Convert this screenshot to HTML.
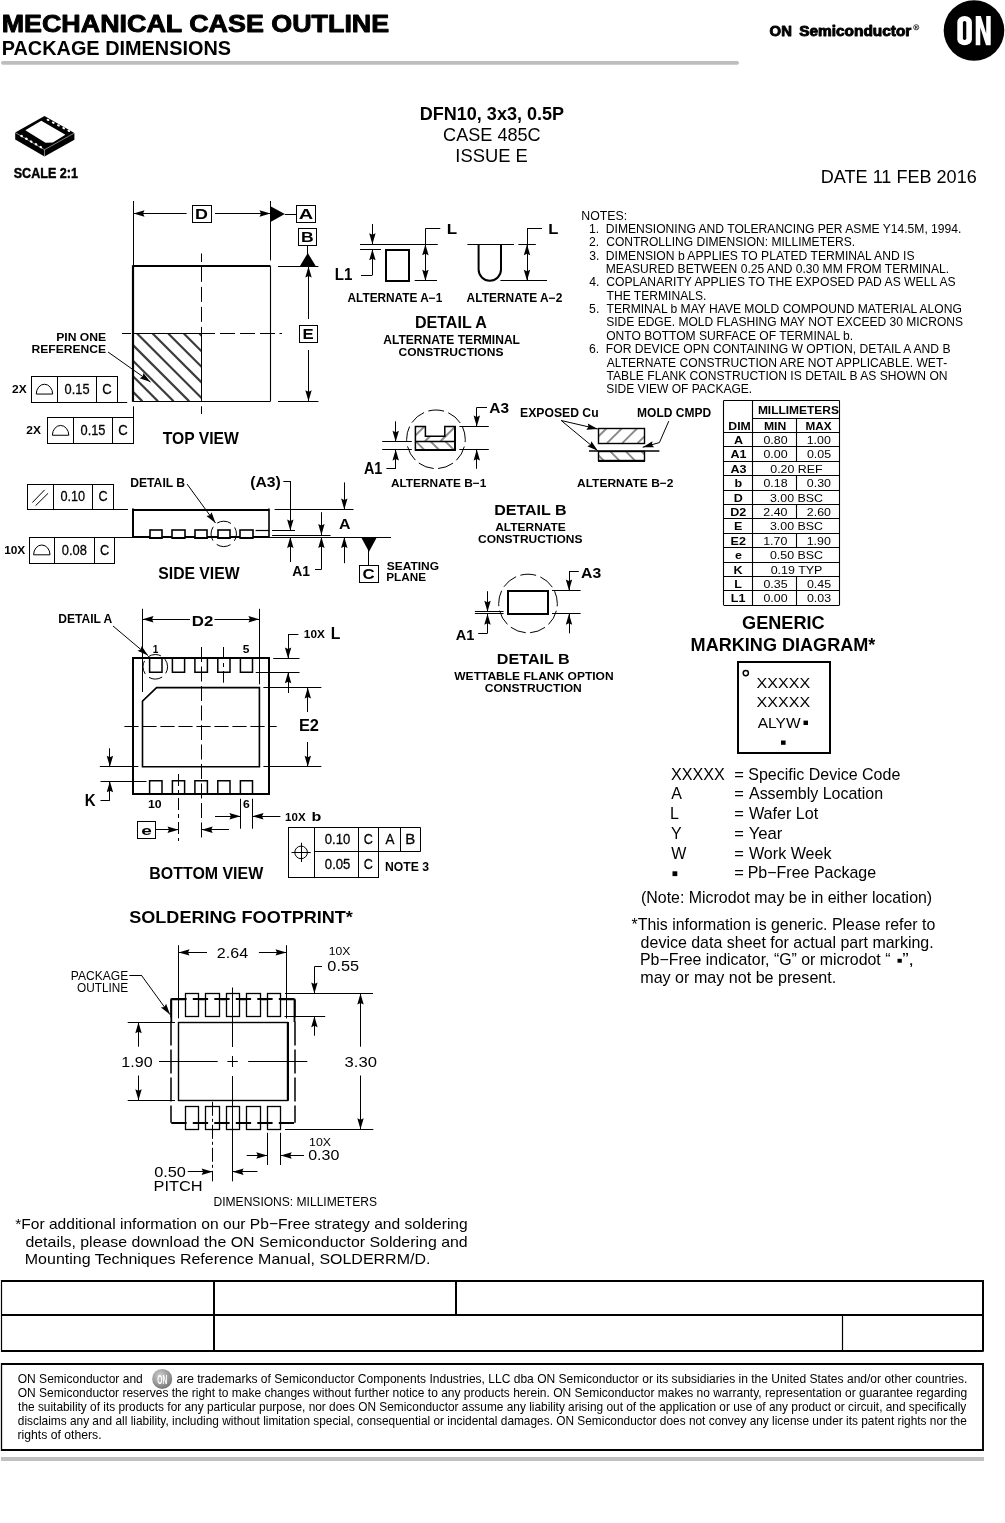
<!DOCTYPE html>
<html><head><meta charset="utf-8"><style>
html,body{margin:0;padding:0;background:#fff;}
body{width:1005px;height:1523px;overflow:hidden;}
svg{display:block;font-family:"Liberation Sans",sans-serif;will-change:transform;}
</style></head><body>
<svg width="1005" height="1523" viewBox="0 0 1005 1523">
<text x="1.66" y="32" font-size="23.84" font-weight="bold" fill="#000" textLength="387.54" lengthAdjust="spacingAndGlyphs" stroke="#000" stroke-width="0.9" stroke-linejoin="round">MECHANICAL CASE OUTLINE</text>
<text x="1.68" y="54.6" font-size="20.06" font-weight="bold" fill="#000" textLength="229.39" lengthAdjust="spacingAndGlyphs">PACKAGE DIMENSIONS</text>
<line x1="2.8" y1="62.9" x2="737.2" y2="62.9" stroke="#bdbdbd" stroke-width="3.6" stroke-linecap="round"/>
<text x="769.64" y="35.75" font-size="14.39" font-weight="bold" fill="#000" textLength="22.2" lengthAdjust="spacingAndGlyphs" stroke="#000" stroke-width="0.9" stroke-linejoin="round">ON</text>
<text x="799.21" y="35.75" font-size="14.39" font-weight="bold" fill="#000" textLength="112.08" lengthAdjust="spacingAndGlyphs" stroke="#000" stroke-width="0.9" stroke-linejoin="round">Semiconductor</text>
<circle cx="916.2" cy="27.3" r="2.6" stroke="#000" stroke-width="0.7" fill="none"/>
<text x="916.2" y="28.9" font-size="4.2" font-weight="bold" text-anchor="middle">R</text>
<circle cx="974" cy="30.5" r="30.3" stroke="none" stroke-width="0" fill="#000"/>
<rect x="957.3" y="16" width="14.6" height="29.3" rx="7.3" ry="6" fill="#fff"/>
<rect x="962.9" y="20.9" width="3.4" height="19.1" rx="1.7" ry="1.7" fill="#000"/>
<path d="M975.7,16 L980.8,16 L986.2,33.5 L986.2,16 L990.7,16 L990.7,45.3 L986,45.3 L980.3,27.5 L980.3,45.3 L975.7,45.3 Z" fill="#fff"/>
<text x="419.79" y="120" font-size="18.17" font-weight="bold" fill="#000" textLength="144.22" lengthAdjust="spacingAndGlyphs">DFN10, 3x3, 0.5P</text>
<text x="443.08" y="141" font-size="18.02" font-weight="normal" fill="#000" textLength="97.61" lengthAdjust="spacingAndGlyphs">CASE 485C</text>
<text x="455.3" y="161.7" font-size="18.02" font-weight="normal" fill="#000" textLength="72.48" lengthAdjust="spacingAndGlyphs">ISSUE E</text>
<text x="820.84" y="183.2" font-size="18.31" font-weight="normal" fill="#000" textLength="155.94" lengthAdjust="spacingAndGlyphs">DATE 11 FEB 2016</text>
<polygon points="44.5,115.9 74.4,133.0 74.4,139.8 44.5,156.5 15.2,139.4 15.2,132.6" fill="#000"/>
<polyline points="15.2,132.6 44.5,149.7 74.4,133.0" stroke="#fff" stroke-width="0.5" fill="none"/>
<line x1="44.5" y1="149.7" x2="44.5" y2="156.5" stroke="#fff" stroke-width="0.5"/>
<polygon points="41.3,120.8 25.3,130.2 45.5,142.7 52.8,142.6 65.4,134.7" fill="#fff"/>
<ellipse cx="48.0" cy="119.9" rx="1.5" ry="1.0" fill="#fff" transform="rotate(30 48.0 119.9)"/>
<ellipse cx="21.6" cy="136.0" rx="1.5" ry="1.1" fill="#fff" transform="rotate(30 21.6 136.0)"/>
<ellipse cx="53.2" cy="122.7" rx="1.5" ry="1.0" fill="#fff" transform="rotate(30 53.2 122.7)"/>
<ellipse cx="26.4" cy="138.8" rx="1.5" ry="1.1" fill="#fff" transform="rotate(30 26.4 138.8)"/>
<ellipse cx="58.4" cy="125.4" rx="1.5" ry="1.0" fill="#fff" transform="rotate(30 58.4 125.4)"/>
<ellipse cx="31.2" cy="141.6" rx="1.5" ry="1.1" fill="#fff" transform="rotate(30 31.2 141.6)"/>
<ellipse cx="63.6" cy="128.2" rx="1.5" ry="1.0" fill="#fff" transform="rotate(30 63.6 128.2)"/>
<ellipse cx="36.0" cy="144.3" rx="1.5" ry="1.1" fill="#fff" transform="rotate(30 36.0 144.3)"/>
<ellipse cx="68.8" cy="130.9" rx="1.5" ry="1.0" fill="#fff" transform="rotate(30 68.8 130.9)"/>
<ellipse cx="40.8" cy="147.1" rx="1.5" ry="1.1" fill="#fff" transform="rotate(30 40.8 147.1)"/>
<text x="13.66" y="177.68" font-size="15.48" font-weight="bold" fill="#000" textLength="64.36" lengthAdjust="spacingAndGlyphs" stroke="#000" stroke-width="0.45" stroke-linejoin="round">SCALE 2:1</text>
<clipPath id="hc"><rect x="133.40" y="333.50" width="68.10" height="67.80"/></clipPath>
<g clip-path="url(#hc)" stroke="#3c3c3c" stroke-width="2.20"><line x1="74.60" y1="333.50" x2="142.40" y2="401.30"/><line x1="90.20" y1="333.50" x2="158.00" y2="401.30"/><line x1="105.80" y1="333.50" x2="173.60" y2="401.30"/><line x1="121.40" y1="333.50" x2="189.20" y2="401.30"/><line x1="137.00" y1="333.50" x2="204.80" y2="401.30"/><line x1="152.60" y1="333.50" x2="220.40" y2="401.30"/><line x1="168.20" y1="333.50" x2="236.00" y2="401.30"/><line x1="183.80" y1="333.50" x2="251.60" y2="401.30"/><line x1="199.40" y1="333.50" x2="267.20" y2="401.30"/></g>
<line x1="133.4" y1="333.5" x2="201.5" y2="333.5" stroke="#000" stroke-width="1" stroke-linecap="butt"/>
<line x1="201.5" y1="333.5" x2="201.5" y2="401.3" stroke="#000" stroke-width="1" stroke-linecap="butt"/>
<line x1="133.4" y1="266" x2="270.5" y2="266" stroke="#000" stroke-width="2" stroke-linecap="butt"/>
<line x1="133" y1="265.2" x2="133" y2="401.8" stroke="#000" stroke-width="2.2" stroke-linecap="butt"/>
<line x1="270.5" y1="266.2" x2="270.5" y2="401.3" stroke="#000" stroke-width="1.1" stroke-linecap="butt"/>
<line x1="133.4" y1="401.5" x2="270.5" y2="401.5" stroke="#000" stroke-width="1.1" stroke-linecap="butt"/>
<line x1="201.5" y1="253.5" x2="201.5" y2="266" stroke="#000" stroke-width="1" stroke-linecap="butt" stroke-dasharray="8.5 4.9" stroke-dashoffset="0"/>
<line x1="201.5" y1="266.9" x2="201.5" y2="333.5" stroke="#000" stroke-width="1" stroke-linecap="butt" stroke-dasharray="15 5" stroke-dashoffset="0"/>
<line x1="201.5" y1="401.3" x2="201.5" y2="414" stroke="#000" stroke-width="1" stroke-linecap="butt" stroke-dasharray="0 5 15 5" stroke-dashoffset="0"/>
<line x1="122" y1="333.5" x2="133.4" y2="333.5" stroke="#000" stroke-width="1" stroke-linecap="butt" stroke-dasharray="9 3" stroke-dashoffset="0"/>
<line x1="201.5" y1="333.5" x2="282" y2="333.5" stroke="#000" stroke-width="1" stroke-linecap="butt" stroke-dasharray="13.5 5 15 5 15 5 15 4.5 8" stroke-dashoffset="0"/>
<line x1="133.5" y1="201" x2="133.5" y2="266" stroke="#000" stroke-width="1" stroke-linecap="butt"/>
<line x1="270.5" y1="201" x2="270.5" y2="260.4" stroke="#000" stroke-width="1" stroke-linecap="butt"/>
<line x1="133.5" y1="213.5" x2="186.6" y2="213.5" stroke="#000" stroke-width="1" stroke-linecap="butt"/>
<line x1="215" y1="213.5" x2="270.5" y2="213.5" stroke="#000" stroke-width="1" stroke-linecap="butt"/>
<polygon points="133.5,213.5 144.5,210.3 143,213.5 144.5,216.7" stroke="none" stroke-width="0" fill="#000" stroke-linejoin="miter"/>
<polygon points="270.5,213.5 259.5,216.7 261,213.5 259.5,210.3" stroke="none" stroke-width="0" fill="#000" stroke-linejoin="miter"/>
<rect x="192.5" y="205.5" width="19" height="17" stroke="#000" stroke-width="1" fill="none"/>
<text x="195" y="218.9" font-size="14.83" font-weight="bold" fill="#000" textLength="12.95" lengthAdjust="spacingAndGlyphs">D</text>
<polygon points="270.5,206.2 284.8,214 270.5,221.9" stroke="none" stroke-width="0" fill="#000" stroke-linejoin="miter"/>
<line x1="284.8" y1="214.5" x2="296.3" y2="214.5" stroke="#000" stroke-width="1" stroke-linecap="butt"/>
<rect x="296.5" y="205.5" width="19" height="17" stroke="#000" stroke-width="1" fill="none"/>
<text x="298.8" y="219.3" font-size="14.83" font-weight="bold" fill="#000" textLength="14.42" lengthAdjust="spacingAndGlyphs">A</text>
<rect x="298.5" y="228.5" width="18" height="17" stroke="#000" stroke-width="1" fill="none"/>
<text x="301.13" y="242.3" font-size="14.83" font-weight="bold" fill="#000" textLength="12.67" lengthAdjust="spacingAndGlyphs">B</text>
<line x1="307.5" y1="245.5" x2="307.5" y2="254" stroke="#000" stroke-width="1" stroke-linecap="butt"/>
<polygon points="307.8,253 315.9,266.2 299.8,266.2" stroke="none" stroke-width="0" fill="#000" stroke-linejoin="miter"/>
<line x1="278" y1="266.5" x2="318.4" y2="266.5" stroke="#000" stroke-width="1" stroke-linecap="butt"/>
<line x1="278" y1="401.5" x2="318.4" y2="401.5" stroke="#000" stroke-width="1" stroke-linecap="butt"/>
<line x1="308.5" y1="266.2" x2="308.5" y2="319" stroke="#000" stroke-width="1" stroke-linecap="butt"/>
<line x1="308.5" y1="350" x2="308.5" y2="401.5" stroke="#000" stroke-width="1" stroke-linecap="butt"/>
<polygon points="308.5,266.5 311.7,277.5 308.5,276 305.3,277.5" stroke="none" stroke-width="0" fill="#000" stroke-linejoin="miter"/>
<polygon points="308.5,401.3 305.3,390.3 308.5,391.8 311.7,390.3" stroke="none" stroke-width="0" fill="#000" stroke-linejoin="miter"/>
<rect x="299.5" y="325.5" width="18" height="17" stroke="#000" stroke-width="1" fill="none"/>
<text x="302.48" y="339.3" font-size="14.83" font-weight="bold" fill="#000" textLength="11.18" lengthAdjust="spacingAndGlyphs">E</text>
<text x="56.19" y="340.8" font-size="11.63" font-weight="bold" fill="#000" textLength="49.99" lengthAdjust="spacingAndGlyphs">PIN ONE</text>
<text x="31.49" y="352.7" font-size="11.63" font-weight="bold" fill="#000" textLength="74.68" lengthAdjust="spacingAndGlyphs">REFERENCE</text>
<line x1="108" y1="352" x2="150.5" y2="382" stroke="#000" stroke-width="1" stroke-linecap="butt"/>
<polygon points="150.5,382 139.67,378.27 142.74,376.52 143.36,373.04" stroke="none" stroke-width="0" fill="#000" stroke-linejoin="miter"/>
<rect x="31.5" y="376.5" width="86" height="26" stroke="#000" stroke-width="1" fill="none"/>
<line x1="57.5" y1="376.3" x2="57.5" y2="402.2" stroke="#000" stroke-width="1" stroke-linecap="butt"/>
<line x1="96.5" y1="376.3" x2="96.5" y2="402.2" stroke="#000" stroke-width="1" stroke-linecap="butt"/>
<path d="M36.25,394.05 A8.2,9.8 0 0 1 52.65,394.05 Z" stroke="#000" stroke-width="1" fill="none"/>
<text x="11.99" y="392.6" font-size="11.34" font-weight="bold" fill="#000" textLength="14.62" lengthAdjust="spacingAndGlyphs">2X</text>
<text x="64.6" y="393.95" font-size="15.26" font-weight="normal" fill="#000" textLength="24.94" lengthAdjust="spacingAndGlyphs" stroke="#000" stroke-width="0.3" stroke-linejoin="round">0.15</text>
<text x="102.33" y="393.95" font-size="15.26" font-weight="normal" fill="#000" textLength="9.46" lengthAdjust="spacingAndGlyphs" stroke="#000" stroke-width="0.3" stroke-linejoin="round">C</text>
<line x1="117.6" y1="402.5" x2="127.2" y2="402.5" stroke="#000" stroke-width="1" stroke-linecap="butt"/>
<rect x="47.5" y="417.5" width="86" height="26" stroke="#000" stroke-width="1" fill="none"/>
<line x1="73.5" y1="417.4" x2="73.5" y2="443.5" stroke="#000" stroke-width="1" stroke-linecap="butt"/>
<line x1="112.5" y1="417.4" x2="112.5" y2="443.5" stroke="#000" stroke-width="1" stroke-linecap="butt"/>
<path d="M52.40,435.25 A8.2,9.8 0 0 1 68.80,435.25 Z" stroke="#000" stroke-width="1" fill="none"/>
<text x="26.39" y="433.5" font-size="11.34" font-weight="bold" fill="#000" textLength="14.62" lengthAdjust="spacingAndGlyphs">2X</text>
<text x="80.55" y="435.25" font-size="15.26" font-weight="normal" fill="#000" textLength="24.94" lengthAdjust="spacingAndGlyphs" stroke="#000" stroke-width="0.3" stroke-linejoin="round">0.15</text>
<text x="118.23" y="435.25" font-size="15.26" font-weight="normal" fill="#000" textLength="9.46" lengthAdjust="spacingAndGlyphs" stroke="#000" stroke-width="0.3" stroke-linejoin="round">C</text>
<line x1="133.5" y1="406.3" x2="133.5" y2="417.4" stroke="#000" stroke-width="1" stroke-linecap="butt"/>
<text x="162.83" y="444" font-size="16.28" font-weight="bold" fill="#000" textLength="75.99" lengthAdjust="spacingAndGlyphs">TOP VIEW</text>
<text x="334.79" y="280" font-size="15.7" font-weight="bold" fill="#000" textLength="17.63" lengthAdjust="spacingAndGlyphs">L1</text>
<line x1="360" y1="244.5" x2="437.8" y2="244.5" stroke="#000" stroke-width="1" stroke-linecap="butt"/>
<line x1="360" y1="249.5" x2="381" y2="249.5" stroke="#000" stroke-width="1" stroke-linecap="butt"/>
<line x1="372.5" y1="224" x2="372.5" y2="244.3" stroke="#000" stroke-width="1" stroke-linecap="butt"/>
<polygon points="372.4,244.3 369.2,233.3 372.4,234.8 375.6,233.3" stroke="none" stroke-width="0" fill="#000" stroke-linejoin="miter"/>
<line x1="372.5" y1="249.3" x2="372.5" y2="275" stroke="#000" stroke-width="1" stroke-linecap="butt"/>
<polygon points="372.4,249.3 375.6,260.3 372.4,258.8 369.2,260.3" stroke="none" stroke-width="0" fill="#000" stroke-linejoin="miter"/>
<line x1="361" y1="275.5" x2="372.4" y2="275.5" stroke="#000" stroke-width="1" stroke-linecap="butt"/>
<rect x="386" y="250" width="23" height="31" stroke="#000" stroke-width="2" fill="none"/>
<line x1="425.5" y1="228.6" x2="425.5" y2="280.8" stroke="#000" stroke-width="1" stroke-linecap="butt"/>
<line x1="425.4" y1="228.5" x2="440.3" y2="228.5" stroke="#000" stroke-width="1" stroke-linecap="butt"/>
<polygon points="425.4,244.3 428.6,255.3 425.4,253.8 422.2,255.3" stroke="none" stroke-width="0" fill="#000" stroke-linejoin="miter"/>
<polygon points="425.4,280.8 422.2,269.8 425.4,271.3 428.6,269.8" stroke="none" stroke-width="0" fill="#000" stroke-linejoin="miter"/>
<line x1="414.7" y1="280.5" x2="437" y2="280.5" stroke="#000" stroke-width="1" stroke-linecap="butt"/>
<text x="446.67" y="234" font-size="14.53" font-weight="bold" fill="#000" textLength="10.36" lengthAdjust="spacingAndGlyphs">L</text>
<line x1="467.4" y1="244.5" x2="514" y2="244.5" stroke="#000" stroke-width="1" stroke-linecap="butt"/>
<path d="M478.6,244.3 L478.6,269.6 A11.2,11.2 0 0 0 501,269.6 L501,244.3" stroke="#000" stroke-width="2" fill="none"/>
<line x1="500.4" y1="280.5" x2="547" y2="280.5" stroke="#000" stroke-width="1" stroke-linecap="butt"/>
<line x1="518.4" y1="244.5" x2="535.8" y2="244.5" stroke="#000" stroke-width="1" stroke-linecap="butt"/>
<line x1="527.5" y1="228.6" x2="527.5" y2="280.8" stroke="#000" stroke-width="1" stroke-linecap="butt"/>
<line x1="527" y1="228.5" x2="542" y2="228.5" stroke="#000" stroke-width="1" stroke-linecap="butt"/>
<polygon points="527,244.3 530.2,255.3 527,253.8 523.8,255.3" stroke="none" stroke-width="0" fill="#000" stroke-linejoin="miter"/>
<polygon points="527,280.8 523.8,269.8 527,271.3 530.2,269.8" stroke="none" stroke-width="0" fill="#000" stroke-linejoin="miter"/>
<text x="548.39" y="234" font-size="14.53" font-weight="bold" fill="#000" textLength="10.12" lengthAdjust="spacingAndGlyphs">L</text>
<text x="347.51" y="302" font-size="11.92" font-weight="bold" fill="#000" textLength="94.81" lengthAdjust="spacingAndGlyphs">ALTERNATE A−1</text>
<text x="466.61" y="302" font-size="11.92" font-weight="bold" fill="#000" textLength="95.76" lengthAdjust="spacingAndGlyphs">ALTERNATE A−2</text>
<text x="414.96" y="328" font-size="15.99" font-weight="bold" fill="#000" textLength="71.96" lengthAdjust="spacingAndGlyphs">DETAIL A</text>
<text x="383.3" y="344.3" font-size="11.92" font-weight="bold" fill="#000" textLength="136.66" lengthAdjust="spacingAndGlyphs">ALTERNATE TERMINAL</text>
<text x="398.51" y="356" font-size="11.63" font-weight="bold" fill="#000" textLength="104.96" lengthAdjust="spacingAndGlyphs">CONSTRUCTIONS</text>
<text x="581.39" y="219.5" font-size="12.21" font-weight="normal" fill="#000" textLength="45.83" lengthAdjust="spacingAndGlyphs">NOTES:</text>
<text x="589.07" y="232.87" font-size="12.21" font-weight="normal" fill="#000" textLength="10.18" lengthAdjust="spacingAndGlyphs">1.</text>
<text x="605.81" y="232.87" font-size="12.21" font-weight="normal" fill="#000" textLength="355.58" lengthAdjust="spacingAndGlyphs">DIMENSIONING AND TOLERANCING PER ASME Y14.5M, 1994.</text>
<text x="588.99" y="246.24" font-size="12.21" font-weight="normal" fill="#000" textLength="10.18" lengthAdjust="spacingAndGlyphs">2.</text>
<text x="606.19" y="246.24" font-size="12.21" font-weight="normal" fill="#000" textLength="248.91" lengthAdjust="spacingAndGlyphs">CONTROLLING DIMENSION: MILLIMETERS.</text>
<text x="589.13" y="259.61" font-size="12.21" font-weight="normal" fill="#000" textLength="10.18" lengthAdjust="spacingAndGlyphs">3.</text>
<text x="605.82" y="259.61" font-size="12.21" font-weight="normal" fill="#000" textLength="308.74" lengthAdjust="spacingAndGlyphs">DIMENSION b APPLIES TO PLATED TERMINAL AND IS</text>
<text x="605.81" y="272.98" font-size="12.21" font-weight="normal" fill="#000" textLength="343.39" lengthAdjust="spacingAndGlyphs">MEASURED BETWEEN 0.25 AND 0.30 MM FROM TERMINAL.</text>
<text x="589.32" y="286.35" font-size="12.21" font-weight="normal" fill="#000" textLength="10.18" lengthAdjust="spacingAndGlyphs">4.</text>
<text x="606.19" y="286.35" font-size="12.21" font-weight="normal" fill="#000" textLength="349.46" lengthAdjust="spacingAndGlyphs">COPLANARITY APPLIES TO THE EXPOSED PAD AS WELL AS</text>
<text x="606.53" y="299.72" font-size="12.21" font-weight="normal" fill="#000" textLength="99.87" lengthAdjust="spacingAndGlyphs">THE TERMINALS.</text>
<text x="589.11" y="313.09" font-size="12.21" font-weight="normal" fill="#000" textLength="10.18" lengthAdjust="spacingAndGlyphs">5.</text>
<text x="606.53" y="313.09" font-size="12.21" font-weight="normal" fill="#000" textLength="355.36" lengthAdjust="spacingAndGlyphs">TERMINAL b MAY HAVE MOLD COMPOUND MATERIAL ALONG</text>
<text x="606.26" y="326.46" font-size="12.21" font-weight="normal" fill="#000" textLength="356.79" lengthAdjust="spacingAndGlyphs">SIDE EDGE. MOLD FLASHING MAY NOT EXCEED 30 MICRONS</text>
<text x="606.23" y="339.83" font-size="12.21" font-weight="normal" fill="#000" textLength="246.96" lengthAdjust="spacingAndGlyphs">ONTO BOTTOM SURFACE OF TERMINAL b.</text>
<text x="588.98" y="353.2" font-size="12.21" font-weight="normal" fill="#000" textLength="10.18" lengthAdjust="spacingAndGlyphs">6.</text>
<text x="605.82" y="353.2" font-size="12.21" font-weight="normal" fill="#000" textLength="344.71" lengthAdjust="spacingAndGlyphs">FOR DEVICE OPN CONTAINING W OPTION, DETAIL A AND B</text>
<text x="606.78" y="366.57" font-size="12.21" font-weight="normal" fill="#000" textLength="340.56" lengthAdjust="spacingAndGlyphs">ALTERNATE CONSTRUCTION ARE NOT APPLICABLE. WET‑</text>
<text x="606.53" y="379.94" font-size="12.21" font-weight="normal" fill="#000" textLength="341.05" lengthAdjust="spacingAndGlyphs">TABLE FLANK CONSTRUCTION IS DETAIL B AS SHOWN ON</text>
<text x="606.26" y="393.31" font-size="12.21" font-weight="normal" fill="#000" textLength="145.93" lengthAdjust="spacingAndGlyphs">SIDE VIEW OF PACKAGE.</text>
<line x1="723.8" y1="400.5" x2="839.4" y2="400.5" stroke="#000" stroke-width="1.1" stroke-linecap="butt"/>
<line x1="752.5" y1="418.5" x2="839.4" y2="418.5" stroke="#000" stroke-width="1.1" stroke-linecap="butt"/>
<line x1="723.8" y1="432.5" x2="839.4" y2="432.5" stroke="#000" stroke-width="1.1" stroke-linecap="butt"/>
<line x1="723.8" y1="446.5" x2="839.4" y2="446.5" stroke="#000" stroke-width="1.1" stroke-linecap="butt"/>
<line x1="723.8" y1="461.5" x2="839.4" y2="461.5" stroke="#000" stroke-width="1.1" stroke-linecap="butt"/>
<line x1="723.8" y1="475.5" x2="839.4" y2="475.5" stroke="#000" stroke-width="1.1" stroke-linecap="butt"/>
<line x1="723.8" y1="490.5" x2="839.4" y2="490.5" stroke="#000" stroke-width="1.1" stroke-linecap="butt"/>
<line x1="723.8" y1="504.5" x2="839.4" y2="504.5" stroke="#000" stroke-width="1.1" stroke-linecap="butt"/>
<line x1="723.8" y1="518.5" x2="839.4" y2="518.5" stroke="#000" stroke-width="1.1" stroke-linecap="butt"/>
<line x1="723.8" y1="533.5" x2="839.4" y2="533.5" stroke="#000" stroke-width="1.1" stroke-linecap="butt"/>
<line x1="723.8" y1="547.5" x2="839.4" y2="547.5" stroke="#000" stroke-width="1.1" stroke-linecap="butt"/>
<line x1="723.8" y1="562.5" x2="839.4" y2="562.5" stroke="#000" stroke-width="1.1" stroke-linecap="butt"/>
<line x1="723.8" y1="576.5" x2="839.4" y2="576.5" stroke="#000" stroke-width="1.1" stroke-linecap="butt"/>
<line x1="723.8" y1="590.5" x2="839.4" y2="590.5" stroke="#000" stroke-width="1.1" stroke-linecap="butt"/>
<line x1="723.8" y1="605.5" x2="839.4" y2="605.5" stroke="#000" stroke-width="1.1" stroke-linecap="butt"/>
<line x1="723.5" y1="400.4" x2="723.5" y2="605.3" stroke="#000" stroke-width="1.1" stroke-linecap="butt"/>
<line x1="752.5" y1="400.4" x2="752.5" y2="605.3" stroke="#000" stroke-width="1.1" stroke-linecap="butt"/>
<line x1="839.5" y1="400.4" x2="839.5" y2="605.3" stroke="#000" stroke-width="1.1" stroke-linecap="butt"/>
<line x1="796.5" y1="432.5" x2="796.5" y2="446.8" stroke="#000" stroke-width="1.1" stroke-linecap="butt"/>
<line x1="796.5" y1="446.8" x2="796.5" y2="461.2" stroke="#000" stroke-width="1.1" stroke-linecap="butt"/>
<line x1="796.5" y1="475.6" x2="796.5" y2="490.1" stroke="#000" stroke-width="1.1" stroke-linecap="butt"/>
<line x1="796.5" y1="504.5" x2="796.5" y2="518.9" stroke="#000" stroke-width="1.1" stroke-linecap="butt"/>
<line x1="796.5" y1="533.3" x2="796.5" y2="547.7" stroke="#000" stroke-width="1.1" stroke-linecap="butt"/>
<line x1="796.5" y1="576.5" x2="796.5" y2="590.8" stroke="#000" stroke-width="1.1" stroke-linecap="butt"/>
<line x1="796.5" y1="590.8" x2="796.5" y2="605.3" stroke="#000" stroke-width="1.1" stroke-linecap="butt"/>
<line x1="796.5" y1="418.5" x2="796.5" y2="432.5" stroke="#000" stroke-width="1.1" stroke-linecap="butt"/>
<text x="757.9" y="414.1" font-size="11.77" font-weight="bold" fill="#000" textLength="81.07" lengthAdjust="spacingAndGlyphs">MILLIMETERS</text>
<text x="728.38" y="429.7" font-size="11.77" font-weight="bold" fill="#000" textLength="22.44" lengthAdjust="spacingAndGlyphs">DIM</text>
<text x="763.98" y="429.7" font-size="11.77" font-weight="bold" fill="#000" textLength="22.34" lengthAdjust="spacingAndGlyphs">MIN</text>
<text x="805.41" y="429.7" font-size="11.77" font-weight="bold" fill="#000" textLength="26.09" lengthAdjust="spacingAndGlyphs">MAX</text>
<text x="733.92" y="443.8" font-size="11.63" font-weight="bold" fill="#000" textLength="9.07" lengthAdjust="spacingAndGlyphs">A</text>
<text x="763.43" y="443.8" font-size="11.48" font-weight="normal" fill="#000" textLength="24.14" lengthAdjust="spacingAndGlyphs">0.80</text>
<text x="806.65" y="443.8" font-size="11.48" font-weight="normal" fill="#000" textLength="24.14" lengthAdjust="spacingAndGlyphs">1.00</text>
<text x="730.44" y="458.2" font-size="11.63" font-weight="bold" fill="#000" textLength="16.05" lengthAdjust="spacingAndGlyphs">A1</text>
<text x="763.43" y="458.2" font-size="11.48" font-weight="normal" fill="#000" textLength="24.14" lengthAdjust="spacingAndGlyphs">0.00</text>
<text x="806.9" y="458.2" font-size="11.48" font-weight="normal" fill="#000" textLength="24.14" lengthAdjust="spacingAndGlyphs">0.05</text>
<text x="730.49" y="472.6" font-size="11.63" font-weight="bold" fill="#000" textLength="16.05" lengthAdjust="spacingAndGlyphs">A3</text>
<text x="770.26" y="472.6" font-size="11.48" font-weight="normal" fill="#000" textLength="52.38" lengthAdjust="spacingAndGlyphs">0.20 REF</text>
<text x="734.46" y="487.1" font-size="11.63" font-weight="bold" fill="#000" textLength="7.67" lengthAdjust="spacingAndGlyphs">b</text>
<text x="763.46" y="487.1" font-size="11.48" font-weight="normal" fill="#000" textLength="24.14" lengthAdjust="spacingAndGlyphs">0.18</text>
<text x="806.88" y="487.1" font-size="11.48" font-weight="normal" fill="#000" textLength="24.14" lengthAdjust="spacingAndGlyphs">0.30</text>
<text x="733.76" y="501.5" font-size="11.63" font-weight="bold" fill="#000" textLength="9.07" lengthAdjust="spacingAndGlyphs">D</text>
<text x="769.91" y="501.5" font-size="11.48" font-weight="normal" fill="#000" textLength="53.08" lengthAdjust="spacingAndGlyphs">3.00 BSC</text>
<text x="730.25" y="515.9" font-size="11.63" font-weight="bold" fill="#000" textLength="16.05" lengthAdjust="spacingAndGlyphs">D2</text>
<text x="763.36" y="515.9" font-size="11.48" font-weight="normal" fill="#000" textLength="24.14" lengthAdjust="spacingAndGlyphs">2.40</text>
<text x="806.81" y="515.9" font-size="11.48" font-weight="normal" fill="#000" textLength="24.14" lengthAdjust="spacingAndGlyphs">2.60</text>
<text x="734.09" y="530.3" font-size="11.63" font-weight="bold" fill="#000" textLength="8.38" lengthAdjust="spacingAndGlyphs">E</text>
<text x="769.91" y="530.3" font-size="11.48" font-weight="normal" fill="#000" textLength="53.08" lengthAdjust="spacingAndGlyphs">3.00 BSC</text>
<text x="730.6" y="544.7" font-size="11.63" font-weight="bold" fill="#000" textLength="15.36" lengthAdjust="spacingAndGlyphs">E2</text>
<text x="763.2" y="544.7" font-size="11.48" font-weight="normal" fill="#000" textLength="24.14" lengthAdjust="spacingAndGlyphs">1.70</text>
<text x="806.65" y="544.7" font-size="11.48" font-weight="normal" fill="#000" textLength="24.14" lengthAdjust="spacingAndGlyphs">1.90</text>
<text x="734.93" y="559.1" font-size="11.63" font-weight="bold" fill="#000" textLength="6.98" lengthAdjust="spacingAndGlyphs">e</text>
<text x="769.9" y="559.1" font-size="11.48" font-weight="normal" fill="#000" textLength="53.08" lengthAdjust="spacingAndGlyphs">0.50 BSC</text>
<text x="733.55" y="573.5" font-size="11.63" font-weight="bold" fill="#000" textLength="9.07" lengthAdjust="spacingAndGlyphs">K</text>
<text x="770.68" y="573.5" font-size="11.48" font-weight="normal" fill="#000" textLength="51.7" lengthAdjust="spacingAndGlyphs">0.19 TYP</text>
<text x="734.39" y="587.8" font-size="11.63" font-weight="bold" fill="#000" textLength="7.67" lengthAdjust="spacingAndGlyphs">L</text>
<text x="763.45" y="587.8" font-size="11.48" font-weight="normal" fill="#000" textLength="24.14" lengthAdjust="spacingAndGlyphs">0.35</text>
<text x="806.9" y="587.8" font-size="11.48" font-weight="normal" fill="#000" textLength="24.14" lengthAdjust="spacingAndGlyphs">0.45</text>
<text x="730.88" y="602.3" font-size="11.63" font-weight="bold" fill="#000" textLength="14.66" lengthAdjust="spacingAndGlyphs">L1</text>
<text x="763.43" y="602.3" font-size="11.48" font-weight="normal" fill="#000" textLength="24.14" lengthAdjust="spacingAndGlyphs">0.00</text>
<text x="806.91" y="602.3" font-size="11.48" font-weight="normal" fill="#000" textLength="24.14" lengthAdjust="spacingAndGlyphs">0.03</text>
<circle cx="435.95" cy="439.3" r="29.3" stroke="#000" stroke-width="1" fill="none" stroke-dasharray="15.96 4.50" stroke-dashoffset="-7.36"/>
<clipPath id="hb1"><polygon points="415.4,426.5 425.4,426.5 425.4,436.3 444.8,436.3 444.8,426.5 455.3,426.5 455.3,441.3 415.4,441.3"/></clipPath>
<g clip-path="url(#hb1)" stroke="#8a8a8a" stroke-width="2.00"><line x1="424.30" y1="426.50" x2="409.50" y2="441.30"/><line x1="439.80" y1="426.50" x2="425.00" y2="441.30"/><line x1="455.30" y1="426.50" x2="440.50" y2="441.30"/><line x1="470.80" y1="426.50" x2="456.00" y2="441.30"/></g>
<clipPath id="hb1b"><rect x="415.40" y="441.30" width="39.90" height="8.70"/></clipPath>
<g clip-path="url(#hb1b)" stroke="#8a8a8a" stroke-width="1.90"><line x1="415.70" y1="441.30" x2="424.40" y2="450.00"/><line x1="430.50" y1="441.30" x2="439.20" y2="450.00"/><line x1="445.30" y1="441.30" x2="454.00" y2="450.00"/></g>
<polygon points="415.4,426.5 425.4,426.5 425.4,436.3 444.8,436.3 444.8,426.5 455,426.5 455,449.9 415.4,449.9" stroke="#000" stroke-width="1.5" fill="none" stroke-linejoin="miter"/>
<line x1="455" y1="426" x2="455" y2="450.6" stroke="#000" stroke-width="2" stroke-linecap="butt"/>
<line x1="415" y1="450" x2="455.8" y2="450" stroke="#000" stroke-width="2" stroke-linecap="butt"/>
<line x1="415.4" y1="441.5" x2="455.3" y2="441.5" stroke="#000" stroke-width="1.3" stroke-linecap="butt"/>
<line x1="382.2" y1="441.5" x2="411.8" y2="441.5" stroke="#000" stroke-width="1" stroke-linecap="butt"/>
<line x1="382.2" y1="449.5" x2="411.8" y2="449.5" stroke="#000" stroke-width="1" stroke-linecap="butt"/>
<line x1="459.3" y1="426.5" x2="488.8" y2="426.5" stroke="#000" stroke-width="1" stroke-linecap="butt"/>
<line x1="459.3" y1="449.5" x2="488.8" y2="449.5" stroke="#000" stroke-width="1" stroke-linecap="butt"/>
<line x1="395.5" y1="421.3" x2="395.5" y2="441.8" stroke="#000" stroke-width="1" stroke-linecap="butt"/>
<polygon points="395.7,441.8 392.5,430.8 395.7,432.3 398.9,430.8" stroke="none" stroke-width="0" fill="#000" stroke-linejoin="miter"/>
<line x1="395.5" y1="449.6" x2="395.5" y2="468.8" stroke="#000" stroke-width="1" stroke-linecap="butt"/>
<polygon points="395.7,449.6 398.9,460.6 395.7,459.1 392.5,460.6" stroke="none" stroke-width="0" fill="#000" stroke-linejoin="miter"/>
<line x1="386.4" y1="468.5" x2="395.7" y2="468.5" stroke="#000" stroke-width="1" stroke-linecap="butt"/>
<text x="363.94" y="474.2" font-size="15.7" font-weight="bold" fill="#000" textLength="18.36" lengthAdjust="spacingAndGlyphs">A1</text>
<line x1="476.5" y1="407.4" x2="476.5" y2="426.6" stroke="#000" stroke-width="1" stroke-linecap="butt"/>
<polygon points="476.8,426.6 473.6,415.6 476.8,417.1 480,415.6" stroke="none" stroke-width="0" fill="#000" stroke-linejoin="miter"/>
<line x1="476.8" y1="407.5" x2="487" y2="407.5" stroke="#000" stroke-width="1" stroke-linecap="butt"/>
<line x1="476.5" y1="449.6" x2="476.5" y2="468.8" stroke="#000" stroke-width="1" stroke-linecap="butt"/>
<polygon points="476.8,449.6 480,460.6 476.8,459.1 473.6,460.6" stroke="none" stroke-width="0" fill="#000" stroke-linejoin="miter"/>
<text x="489.32" y="412.7" font-size="15.26" font-weight="bold" fill="#000" textLength="19.74" lengthAdjust="spacingAndGlyphs">A3</text>
<text x="390.91" y="486.7" font-size="11.48" font-weight="bold" fill="#000" textLength="95.51" lengthAdjust="spacingAndGlyphs">ALTERNATE B−1</text>
<text x="520.09" y="416.9" font-size="12.06" font-weight="bold" fill="#000" textLength="78.52" lengthAdjust="spacingAndGlyphs">EXPOSED Cu</text>
<text x="637.1" y="416.9" font-size="12.06" font-weight="bold" fill="#000" textLength="74.01" lengthAdjust="spacingAndGlyphs">MOLD CMPD</text>
<clipPath id="hb2"><rect x="598.50" y="428.50" width="45.70" height="14.70"/></clipPath>
<g clip-path="url(#hb2)" stroke="#8a8a8a" stroke-width="1.90"><line x1="606.40" y1="428.50" x2="591.70" y2="443.20"/><line x1="621.70" y1="428.50" x2="607.00" y2="443.20"/><line x1="637.00" y1="428.50" x2="622.30" y2="443.20"/><line x1="652.30" y1="428.50" x2="637.60" y2="443.20"/></g>
<rect x="598.5" y="428.5" width="46" height="15" stroke="#000" stroke-width="1.4" fill="none"/>
<clipPath id="hb3"><rect x="598.50" y="451.70" width="46.00" height="9.20"/></clipPath>
<g clip-path="url(#hb3)" stroke="#8a8a8a" stroke-width="1.90"><line x1="594.90" y1="451.70" x2="604.10" y2="460.90"/><line x1="610.50" y1="451.70" x2="619.70" y2="460.90"/><line x1="626.10" y1="451.70" x2="635.30" y2="460.90"/><line x1="641.70" y1="451.70" x2="650.90" y2="460.90"/></g>
<rect x="598.5" y="451.5" width="46" height="9" stroke="#000" stroke-width="1.4" fill="none"/>
<line x1="598" y1="461" x2="645" y2="461" stroke="#000" stroke-width="2" stroke-linecap="butt"/>
<line x1="589" y1="451" x2="659.4" y2="451" stroke="#000" stroke-width="1.6" stroke-linecap="butt"/>
<line x1="561.2" y1="420.5" x2="597.8" y2="429" stroke="#000" stroke-width="1" stroke-linecap="butt"/>
<polygon points="597.8,429 586.36,429.63 588.55,426.85 587.81,423.39" stroke="none" stroke-width="0" fill="#000" stroke-linejoin="miter"/>
<line x1="561.2" y1="420.5" x2="597.8" y2="450.8" stroke="#000" stroke-width="1" stroke-linecap="butt"/>
<polygon points="597.8,450.8 587.29,446.25 590.48,444.74 591.37,441.32" stroke="none" stroke-width="0" fill="#000" stroke-linejoin="miter"/>
<line x1="668.8" y1="421.1" x2="659.4" y2="442.6" stroke="#000" stroke-width="1" stroke-linecap="butt"/>
<line x1="659.4" y1="442.6" x2="642.7" y2="447.2" stroke="#000" stroke-width="1" stroke-linecap="butt"/>
<polygon points="642.7,447.2 652.46,441.19 651.86,444.68 654.15,447.36" stroke="none" stroke-width="0" fill="#000" stroke-linejoin="miter"/>
<text x="577.01" y="486.9" font-size="11.48" font-weight="bold" fill="#000" textLength="96.46" lengthAdjust="spacingAndGlyphs">ALTERNATE B−2</text>
<text x="494.15" y="514.5" font-size="15.26" font-weight="bold" fill="#000" textLength="72.47" lengthAdjust="spacingAndGlyphs">DETAIL B</text>
<text x="495.21" y="530.8" font-size="11.34" font-weight="bold" fill="#000" textLength="70.65" lengthAdjust="spacingAndGlyphs">ALTERNATE</text>
<text x="478.01" y="542.8" font-size="11.34" font-weight="bold" fill="#000" textLength="104.46" lengthAdjust="spacingAndGlyphs">CONSTRUCTIONS</text>
<circle cx="528" cy="603.5" r="29.3" stroke="#000" stroke-width="1" fill="none" stroke-dasharray="15.96 4.50" stroke-dashoffset="-7.36"/>
<rect x="508" y="591" width="40" height="23" stroke="#000" stroke-width="2" fill="none"/>
<line x1="474.9" y1="611.5" x2="503.6" y2="611.5" stroke="#000" stroke-width="1" stroke-linecap="butt"/>
<line x1="474.9" y1="613.5" x2="503.6" y2="613.5" stroke="#000" stroke-width="1" stroke-linecap="butt"/>
<line x1="487.5" y1="591.2" x2="487.5" y2="611.8" stroke="#000" stroke-width="1" stroke-linecap="butt"/>
<polygon points="487.5,611.8 484.3,600.8 487.5,602.3 490.7,600.8" stroke="none" stroke-width="0" fill="#000" stroke-linejoin="miter"/>
<line x1="487.5" y1="613.8" x2="487.5" y2="633.3" stroke="#000" stroke-width="1" stroke-linecap="butt"/>
<polygon points="487.5,613.8 490.7,624.8 487.5,623.3 484.3,624.8" stroke="none" stroke-width="0" fill="#000" stroke-linejoin="miter"/>
<line x1="478.2" y1="633.5" x2="487.5" y2="633.5" stroke="#000" stroke-width="1" stroke-linecap="butt"/>
<text x="455.74" y="639.6" font-size="14.53" font-weight="bold" fill="#000" textLength="18.67" lengthAdjust="spacingAndGlyphs">A1</text>
<line x1="552" y1="590.5" x2="580.6" y2="590.5" stroke="#000" stroke-width="1" stroke-linecap="butt"/>
<line x1="552" y1="613.5" x2="580.6" y2="613.5" stroke="#000" stroke-width="1" stroke-linecap="butt"/>
<line x1="569.5" y1="571.5" x2="569.5" y2="590.5" stroke="#000" stroke-width="1" stroke-linecap="butt"/>
<polygon points="569,590.5 565.8,579.5 569,581 572.2,579.5" stroke="none" stroke-width="0" fill="#000" stroke-linejoin="miter"/>
<line x1="569" y1="571.5" x2="578.8" y2="571.5" stroke="#000" stroke-width="1" stroke-linecap="butt"/>
<line x1="569.5" y1="613.8" x2="569.5" y2="633.3" stroke="#000" stroke-width="1" stroke-linecap="butt"/>
<polygon points="569,613.8 572.2,624.8 569,623.3 565.8,624.8" stroke="none" stroke-width="0" fill="#000" stroke-linejoin="miter"/>
<text x="581.11" y="577.8" font-size="15.12" font-weight="bold" fill="#000" textLength="20.16" lengthAdjust="spacingAndGlyphs">A3</text>
<text x="496.84" y="664.3" font-size="15.12" font-weight="bold" fill="#000" textLength="72.87" lengthAdjust="spacingAndGlyphs">DETAIL B</text>
<text x="454.29" y="679.5" font-size="11.34" font-weight="bold" fill="#000" textLength="159.32" lengthAdjust="spacingAndGlyphs">WETTABLE FLANK OPTION</text>
<text x="484.81" y="692" font-size="11.34" font-weight="bold" fill="#000" textLength="97.01" lengthAdjust="spacingAndGlyphs">CONSTRUCTION</text>
<rect x="27.5" y="484.5" width="86" height="25" stroke="#000" stroke-width="1" fill="none"/>
<line x1="53.5" y1="484.1" x2="53.5" y2="509.3" stroke="#000" stroke-width="1" stroke-linecap="butt"/>
<line x1="92.5" y1="484.1" x2="92.5" y2="509.3" stroke="#000" stroke-width="1" stroke-linecap="butt"/>
<line x1="32.3" y1="502.6" x2="44.6" y2="489.9" stroke="#000" stroke-width="1" stroke-linecap="butt"/>
<line x1="35.6" y1="505.6" x2="48.1" y2="493.3" stroke="#000" stroke-width="1" stroke-linecap="butt"/>
<text x="60.45" y="501.25" font-size="15.55" font-weight="normal" fill="#000" textLength="24.69" lengthAdjust="spacingAndGlyphs" stroke="#000" stroke-width="0.3" stroke-linejoin="round">0.10</text>
<text x="98.51" y="501.25" font-size="15.55" font-weight="normal" fill="#000" textLength="9.12" lengthAdjust="spacingAndGlyphs" stroke="#000" stroke-width="0.3" stroke-linejoin="round">C</text>
<line x1="113.7" y1="509.5" x2="128" y2="509.5" stroke="#000" stroke-width="1" stroke-linecap="butt"/>
<line x1="29.4" y1="537.5" x2="391" y2="537.5" stroke="#000" stroke-width="1" stroke-linecap="butt"/>
<rect x="29.5" y="537.5" width="85" height="26" stroke="#000" stroke-width="1" fill="none"/>
<line x1="54.5" y1="537" x2="54.5" y2="563.2" stroke="#000" stroke-width="1" stroke-linecap="butt"/>
<line x1="94.5" y1="537" x2="94.5" y2="563.2" stroke="#000" stroke-width="1" stroke-linecap="butt"/>
<path d="M33.60,554.80 A8.2,9.8 0 0 1 50.00,554.80 Z" stroke="#000" stroke-width="1" fill="none"/>
<text x="4.15" y="553.8" font-size="11.05" font-weight="bold" fill="#000" textLength="21.15" lengthAdjust="spacingAndGlyphs">10X</text>
<text x="61.85" y="555.05" font-size="15.55" font-weight="normal" fill="#000" textLength="25.06" lengthAdjust="spacingAndGlyphs" stroke="#000" stroke-width="0.3" stroke-linejoin="round">0.08</text>
<text x="100.1" y="555.05" font-size="15.55" font-weight="normal" fill="#000" textLength="9.24" lengthAdjust="spacingAndGlyphs" stroke="#000" stroke-width="0.3" stroke-linejoin="round">C</text>
<line x1="133.3" y1="510" x2="269.1" y2="510" stroke="#000" stroke-width="2" stroke-linecap="butt"/>
<line x1="133" y1="508.6" x2="133" y2="537.2" stroke="#000" stroke-width="2" stroke-linecap="butt"/>
<line x1="269" y1="508.6" x2="269" y2="537.2" stroke="#000" stroke-width="1.6" stroke-linecap="butt"/>
<line x1="133.3" y1="537" x2="269.1" y2="537" stroke="#000" stroke-width="2" stroke-linecap="butt"/>
<rect x="150" y="530" width="12" height="8" stroke="#000" stroke-width="1.6" fill="#fff"/>
<line x1="149.1" y1="538" x2="162.5" y2="538" stroke="#000" stroke-width="2" stroke-linecap="butt"/>
<rect x="172" y="530" width="13" height="8" stroke="#000" stroke-width="1.6" fill="#fff"/>
<line x1="171.9" y1="538" x2="185.1" y2="538" stroke="#000" stroke-width="2" stroke-linecap="butt"/>
<rect x="195" y="530" width="12" height="8" stroke="#000" stroke-width="1.6" fill="#fff"/>
<line x1="194.4" y1="538" x2="207.9" y2="538" stroke="#000" stroke-width="2" stroke-linecap="butt"/>
<rect x="218" y="530" width="12" height="8" stroke="#000" stroke-width="1.6" fill="#fff"/>
<line x1="217.3" y1="538" x2="230.5" y2="538" stroke="#000" stroke-width="2" stroke-linecap="butt"/>
<rect x="240" y="530" width="13" height="8" stroke="#000" stroke-width="1.6" fill="#fff"/>
<line x1="239.9" y1="538" x2="253" y2="538" stroke="#000" stroke-width="2" stroke-linecap="butt"/>
<line x1="255.6" y1="530.5" x2="269.1" y2="530.5" stroke="#000" stroke-width="1.2" stroke-linecap="butt"/>
<circle cx="223.75" cy="533.9" r="12.7" stroke="#000" stroke-width="1" fill="none" stroke-dasharray="14.56 5.39" stroke-dashoffset="7.28"/>
<text x="130.2" y="486.8" font-size="12.21" font-weight="bold" fill="#000" textLength="54.94" lengthAdjust="spacingAndGlyphs">DETAIL B</text>
<line x1="187" y1="484" x2="215.5" y2="523" stroke="#000" stroke-width="1" stroke-linecap="butt"/>
<polygon points="215.5,523 206.43,516.01 209.89,515.33 211.59,512.23" stroke="none" stroke-width="0" fill="#000" stroke-linejoin="miter"/>
<text x="158.25" y="578.9" font-size="16.28" font-weight="bold" fill="#000" textLength="81.37" lengthAdjust="spacingAndGlyphs">SIDE VIEW</text>
<line x1="274.6" y1="509.5" x2="353.5" y2="509.5" stroke="#000" stroke-width="1" stroke-linecap="butt"/>
<line x1="272.1" y1="530.5" x2="295" y2="530.5" stroke="#000" stroke-width="1" stroke-linecap="butt"/>
<line x1="272.1" y1="535.5" x2="330.6" y2="535.5" stroke="#000" stroke-width="1" stroke-linecap="butt"/>
<text x="250.21" y="486.6" font-size="14.53" font-weight="bold" fill="#000" textLength="30.67" lengthAdjust="spacingAndGlyphs">(A3)</text>
<line x1="283.3" y1="481.5" x2="290.3" y2="481.5" stroke="#000" stroke-width="1" stroke-linecap="butt"/>
<line x1="290.5" y1="481.1" x2="290.5" y2="530.4" stroke="#000" stroke-width="1" stroke-linecap="butt"/>
<polygon points="290.3,530.4 287.1,519.4 290.3,520.9 293.5,519.4" stroke="none" stroke-width="0" fill="#000" stroke-linejoin="miter"/>
<line x1="290.5" y1="537" x2="290.5" y2="562" stroke="#000" stroke-width="1" stroke-linecap="butt"/>
<polygon points="290.3,537 293.5,548 290.3,546.5 287.1,548" stroke="none" stroke-width="0" fill="#000" stroke-linejoin="miter"/>
<line x1="321.5" y1="512.2" x2="321.5" y2="535.1" stroke="#000" stroke-width="1" stroke-linecap="butt"/>
<polygon points="321.4,535.1 318.2,524.1 321.4,525.6 324.6,524.1" stroke="none" stroke-width="0" fill="#000" stroke-linejoin="miter"/>
<line x1="321.5" y1="537" x2="321.5" y2="569.5" stroke="#000" stroke-width="1" stroke-linecap="butt"/>
<polygon points="321.4,537 324.6,548 321.4,546.5 318.2,548" stroke="none" stroke-width="0" fill="#000" stroke-linejoin="miter"/>
<line x1="315" y1="569.5" x2="321.4" y2="569.5" stroke="#000" stroke-width="1" stroke-linecap="butt"/>
<text x="292.15" y="575.7" font-size="14.53" font-weight="bold" fill="#000" textLength="17.73" lengthAdjust="spacingAndGlyphs">A1</text>
<line x1="344.5" y1="482.4" x2="344.5" y2="509.6" stroke="#000" stroke-width="1" stroke-linecap="butt"/>
<polygon points="344.3,509.6 341.1,498.6 344.3,500.1 347.5,498.6" stroke="none" stroke-width="0" fill="#000" stroke-linejoin="miter"/>
<line x1="344.5" y1="537" x2="344.5" y2="563.2" stroke="#000" stroke-width="1" stroke-linecap="butt"/>
<polygon points="344.3,537 347.5,548 344.3,546.5 341.1,548" stroke="none" stroke-width="0" fill="#000" stroke-linejoin="miter"/>
<text x="338.9" y="528.9" font-size="14.39" font-weight="bold" fill="#000" textLength="11.52" lengthAdjust="spacingAndGlyphs">A</text>
<polygon points="361,537 377,537 369,551.8" stroke="none" stroke-width="0" fill="#000" stroke-linejoin="miter"/>
<line x1="368.5" y1="550" x2="368.5" y2="565.7" stroke="#000" stroke-width="1" stroke-linecap="butt"/>
<rect x="359.5" y="565.5" width="19" height="17" stroke="#000" stroke-width="1" fill="none"/>
<text x="362.61" y="578.9" font-size="14.53" font-weight="bold" fill="#000" textLength="12.15" lengthAdjust="spacingAndGlyphs">C</text>
<text x="386.66" y="570" font-size="11.63" font-weight="bold" fill="#000" textLength="52.37" lengthAdjust="spacingAndGlyphs">SEATING</text>
<text x="386.22" y="581.4" font-size="11.63" font-weight="bold" fill="#000" textLength="39.74" lengthAdjust="spacingAndGlyphs">PLANE</text>
<rect x="133" y="658" width="136" height="136" stroke="#000" stroke-width="2" fill="none"/>
<polyline points="149.6,658.5 149.6,672.2 162,672.2 162,658.5" stroke="#000" stroke-width="1.5" fill="none" stroke-linejoin="miter"/>
<polyline points="149.6,794.3 149.6,780.8 162,780.8 162,794.3" stroke="#000" stroke-width="1.5" fill="none" stroke-linejoin="miter"/>
<polyline points="172.4,658.5 172.4,672.2 184.6,672.2 184.6,658.5" stroke="#000" stroke-width="1.5" fill="none" stroke-linejoin="miter"/>
<polyline points="172.4,794.3 172.4,780.8 184.6,780.8 184.6,794.3" stroke="#000" stroke-width="1.5" fill="none" stroke-linejoin="miter"/>
<polyline points="194.9,658.5 194.9,672.2 207.4,672.2 207.4,658.5" stroke="#000" stroke-width="1.5" fill="none" stroke-linejoin="miter"/>
<polyline points="194.9,794.3 194.9,780.8 207.4,780.8 207.4,794.3" stroke="#000" stroke-width="1.5" fill="none" stroke-linejoin="miter"/>
<polyline points="217.8,658.5 217.8,672.2 230,672.2 230,658.5" stroke="#000" stroke-width="1.5" fill="none" stroke-linejoin="miter"/>
<polyline points="217.8,794.3 217.8,780.8 230,780.8 230,794.3" stroke="#000" stroke-width="1.5" fill="none" stroke-linejoin="miter"/>
<polyline points="240.4,658.5 240.4,672.2 252.5,672.2 252.5,658.5" stroke="#000" stroke-width="1.5" fill="none" stroke-linejoin="miter"/>
<polyline points="240.4,794.3 240.4,780.8 252.5,780.8 252.5,794.3" stroke="#000" stroke-width="1.5" fill="none" stroke-linejoin="miter"/>
<polygon points="156.6,687.6 259.4,687.6 259.4,766.8 142.5,766.8 142.5,701.1" stroke="#000" stroke-width="1.6" fill="none" stroke-linejoin="miter"/>
<line x1="122" y1="726.5" x2="276.7" y2="726.5" stroke="#000" stroke-width="1" stroke-linecap="butt" stroke-dasharray="14.2 3.8" stroke-dashoffset="15.6"/>
<line x1="201.5" y1="647" x2="201.5" y2="841" stroke="#000" stroke-width="1" stroke-linecap="butt" stroke-dasharray="15 4.5" stroke-dashoffset="0"/>
<line x1="223.5" y1="647" x2="223.5" y2="682.7" stroke="#000" stroke-width="1" stroke-linecap="butt" stroke-dasharray="12 4 4 4" stroke-dashoffset="0"/>
<line x1="178.5" y1="774" x2="178.5" y2="841" stroke="#000" stroke-width="1" stroke-linecap="butt" stroke-dasharray="12 4 4 4" stroke-dashoffset="0"/>
<circle cx="155.3" cy="666.8" r="12.3" stroke="#000" stroke-width="1" fill="none" stroke-dasharray="13.76 5.09" stroke-dashoffset="6.88"/>
<line x1="142.5" y1="608.8" x2="142.5" y2="692" stroke="#000" stroke-width="1" stroke-linecap="butt"/>
<line x1="259.5" y1="608.8" x2="259.5" y2="684.3" stroke="#000" stroke-width="1" stroke-linecap="butt"/>
<line x1="142.5" y1="619.5" x2="190" y2="619.5" stroke="#000" stroke-width="1" stroke-linecap="butt"/>
<line x1="214.5" y1="619.5" x2="259.4" y2="619.5" stroke="#000" stroke-width="1" stroke-linecap="butt"/>
<polygon points="142.5,619.3 153.5,616.1 152,619.3 153.5,622.5" stroke="none" stroke-width="0" fill="#000" stroke-linejoin="miter"/>
<polygon points="259.4,619.3 248.4,622.5 249.9,619.3 248.4,616.1" stroke="none" stroke-width="0" fill="#000" stroke-linejoin="miter"/>
<text x="191.77" y="626" font-size="15.26" font-weight="bold" fill="#000" textLength="21.5" lengthAdjust="spacingAndGlyphs">D2</text>
<text x="152.66" y="653.1" font-size="11.19" font-weight="bold" fill="#000" textLength="5.62" lengthAdjust="spacingAndGlyphs">1</text>
<text x="242.83" y="652.5" font-size="11.19" font-weight="bold" fill="#000" textLength="6.71" lengthAdjust="spacingAndGlyphs">5</text>
<text x="58.22" y="623.2" font-size="12.35" font-weight="bold" fill="#000" textLength="54.09" lengthAdjust="spacingAndGlyphs">DETAIL A</text>
<line x1="113" y1="626" x2="148" y2="655.5" stroke="#000" stroke-width="1" stroke-linecap="butt"/>
<polygon points="148,655.5 137.53,650.86 140.74,649.38 141.65,645.96" stroke="none" stroke-width="0" fill="#000" stroke-linejoin="miter"/>
<line x1="273.2" y1="658.5" x2="299.5" y2="658.5" stroke="#000" stroke-width="1" stroke-linecap="butt"/>
<line x1="255.7" y1="672.5" x2="299.5" y2="672.5" stroke="#000" stroke-width="1" stroke-linecap="butt"/>
<line x1="288.5" y1="634" x2="288.5" y2="658.5" stroke="#000" stroke-width="1" stroke-linecap="butt"/>
<polygon points="288.1,658.5 284.9,647.5 288.1,649 291.3,647.5" stroke="none" stroke-width="0" fill="#000" stroke-linejoin="miter"/>
<line x1="288.1" y1="634.5" x2="298.4" y2="634.5" stroke="#000" stroke-width="1" stroke-linecap="butt"/>
<line x1="288.5" y1="672.2" x2="288.5" y2="693" stroke="#000" stroke-width="1" stroke-linecap="butt"/>
<polygon points="288.1,672.2 291.3,683.2 288.1,681.7 284.9,683.2" stroke="none" stroke-width="0" fill="#000" stroke-linejoin="miter"/>
<text x="303.85" y="637.8" font-size="11.48" font-weight="bold" fill="#000" textLength="21.05" lengthAdjust="spacingAndGlyphs">10X</text>
<text x="330.64" y="639.2" font-size="15.99" font-weight="bold" fill="#000" textLength="9.64" lengthAdjust="spacingAndGlyphs">L</text>
<line x1="263.4" y1="687.5" x2="321.4" y2="687.5" stroke="#000" stroke-width="1" stroke-linecap="butt"/>
<line x1="263.4" y1="766.5" x2="321.4" y2="766.5" stroke="#000" stroke-width="1" stroke-linecap="butt"/>
<line x1="307.5" y1="687.6" x2="307.5" y2="712" stroke="#000" stroke-width="1" stroke-linecap="butt"/>
<polygon points="307.8,687.6 311,698.6 307.8,697.1 304.6,698.6" stroke="none" stroke-width="0" fill="#000" stroke-linejoin="miter"/>
<line x1="307.5" y1="742" x2="307.5" y2="766.8" stroke="#000" stroke-width="1" stroke-linecap="butt"/>
<polygon points="307.8,766.8 304.6,755.8 307.8,757.3 311,755.8" stroke="none" stroke-width="0" fill="#000" stroke-linejoin="miter"/>
<text x="298.9" y="730.8" font-size="15.99" font-weight="bold" fill="#000" textLength="20.05" lengthAdjust="spacingAndGlyphs">E2</text>
<line x1="99.8" y1="766.5" x2="138.4" y2="766.5" stroke="#000" stroke-width="1" stroke-linecap="butt"/>
<line x1="100.5" y1="781.5" x2="146.5" y2="781.5" stroke="#000" stroke-width="1" stroke-linecap="butt"/>
<line x1="109.5" y1="748.3" x2="109.5" y2="766.7" stroke="#000" stroke-width="1" stroke-linecap="butt"/>
<polygon points="109.9,766.7 106.7,755.7 109.9,757.2 113.1,755.7" stroke="none" stroke-width="0" fill="#000" stroke-linejoin="miter"/>
<line x1="109.5" y1="781.2" x2="109.5" y2="800.2" stroke="#000" stroke-width="1" stroke-linecap="butt"/>
<polygon points="109.9,781.2 113.1,792.2 109.9,790.7 106.7,792.2" stroke="none" stroke-width="0" fill="#000" stroke-linejoin="miter"/>
<line x1="100.5" y1="800.5" x2="109.9" y2="800.5" stroke="#000" stroke-width="1" stroke-linecap="butt"/>
<text x="84.8" y="805.7" font-size="15.99" font-weight="bold" fill="#000" textLength="10.84" lengthAdjust="spacingAndGlyphs">K</text>
<text x="147.93" y="807.9" font-size="11.19" font-weight="bold" fill="#000" textLength="13.68" lengthAdjust="spacingAndGlyphs">10</text>
<text x="243.05" y="807.9" font-size="11.19" font-weight="bold" fill="#000" textLength="6.79" lengthAdjust="spacingAndGlyphs">6</text>
<line x1="155.9" y1="829.5" x2="178.5" y2="829.5" stroke="#000" stroke-width="1" stroke-linecap="butt"/>
<polygon points="178.5,829.8 167.5,833 169,829.8 167.5,826.6" stroke="none" stroke-width="0" fill="#000" stroke-linejoin="miter"/>
<line x1="201.7" y1="829.5" x2="229" y2="829.5" stroke="#000" stroke-width="1" stroke-linecap="butt"/>
<polygon points="201.7,829.8 212.7,826.6 211.2,829.8 212.7,833" stroke="none" stroke-width="0" fill="#000" stroke-linejoin="miter"/>
<rect x="137.5" y="821.5" width="18" height="17" stroke="#000" stroke-width="1" fill="none"/>
<text x="141.26" y="834.5" font-size="11.92" font-weight="bold" fill="#000" textLength="10.6" lengthAdjust="spacingAndGlyphs">e</text>
<line x1="240.5" y1="798.7" x2="240.5" y2="828.7" stroke="#000" stroke-width="1" stroke-linecap="butt"/>
<line x1="252.5" y1="798.7" x2="252.5" y2="828.7" stroke="#000" stroke-width="1" stroke-linecap="butt"/>
<line x1="215" y1="816.5" x2="240.4" y2="816.5" stroke="#000" stroke-width="1" stroke-linecap="butt"/>
<polygon points="240.4,816.2 229.4,819.4 230.9,816.2 229.4,813" stroke="none" stroke-width="0" fill="#000" stroke-linejoin="miter"/>
<line x1="252.5" y1="816.5" x2="280.4" y2="816.5" stroke="#000" stroke-width="1" stroke-linecap="butt"/>
<polygon points="252.5,816.2 263.5,813 262,816.2 263.5,819.4" stroke="none" stroke-width="0" fill="#000" stroke-linejoin="miter"/>
<text x="285.07" y="821" font-size="11.19" font-weight="bold" fill="#000" textLength="20.53" lengthAdjust="spacingAndGlyphs">10X</text>
<text x="311.64" y="821" font-size="12.94" font-weight="bold" fill="#000" textLength="9.82" lengthAdjust="spacingAndGlyphs">b</text>
<rect x="288.5" y="827.5" width="90" height="50" stroke="#000" stroke-width="1" fill="none"/>
<line x1="314.5" y1="827.5" x2="314.5" y2="877" stroke="#000" stroke-width="1" stroke-linecap="butt"/>
<line x1="358.5" y1="827.5" x2="358.5" y2="877" stroke="#000" stroke-width="1" stroke-linecap="butt"/>
<line x1="314.3" y1="851.5" x2="420.5" y2="851.5" stroke="#000" stroke-width="1" stroke-linecap="butt"/>
<line x1="378.4" y1="827.5" x2="420.5" y2="827.5" stroke="#000" stroke-width="1" stroke-linecap="butt"/>
<line x1="420.5" y1="827.5" x2="420.5" y2="851.6" stroke="#000" stroke-width="1" stroke-linecap="butt"/>
<line x1="400.5" y1="827.5" x2="400.5" y2="851.6" stroke="#000" stroke-width="1" stroke-linecap="butt"/>
<circle cx="301.1" cy="852.4" r="6.3" stroke="#000" stroke-width="1" fill="none"/>
<line x1="291.5" y1="852.5" x2="310.7" y2="852.5" stroke="#000" stroke-width="1" stroke-linecap="butt"/>
<line x1="301.5" y1="842.8" x2="301.5" y2="862" stroke="#000" stroke-width="1" stroke-linecap="butt"/>
<text x="324.84" y="844.45" font-size="14.97" font-weight="normal" fill="#000" textLength="25.52" lengthAdjust="spacingAndGlyphs" stroke="#000" stroke-width="0.3" stroke-linejoin="round">0.10</text>
<text x="363.81" y="844.45" font-size="14.97" font-weight="normal" fill="#000" textLength="9.12" lengthAdjust="spacingAndGlyphs" stroke="#000" stroke-width="0.3" stroke-linejoin="round">C</text>
<text x="385.42" y="844.45" font-size="14.97" font-weight="normal" fill="#000" textLength="8.95" lengthAdjust="spacingAndGlyphs" stroke="#000" stroke-width="0.3" stroke-linejoin="round">A</text>
<text x="405.32" y="844.45" font-size="14.97" font-weight="normal" fill="#000" textLength="10.03" lengthAdjust="spacingAndGlyphs" stroke="#000" stroke-width="0.3" stroke-linejoin="round">B</text>
<text x="324.84" y="868.55" font-size="14.97" font-weight="normal" fill="#000" textLength="25.56" lengthAdjust="spacingAndGlyphs" stroke="#000" stroke-width="0.3" stroke-linejoin="round">0.05</text>
<text x="363.81" y="868.55" font-size="14.97" font-weight="normal" fill="#000" textLength="9.12" lengthAdjust="spacingAndGlyphs" stroke="#000" stroke-width="0.3" stroke-linejoin="round">C</text>
<text x="385.09" y="870.8" font-size="12.06" font-weight="bold" fill="#000" textLength="43.95" lengthAdjust="spacingAndGlyphs">NOTE 3</text>
<text x="149.34" y="879" font-size="15.99" font-weight="bold" fill="#000" textLength="113.88" lengthAdjust="spacingAndGlyphs">BOTTOM VIEW</text>
<text x="742.06" y="629.1" font-size="18.02" font-weight="bold" fill="#000" textLength="82.64" lengthAdjust="spacingAndGlyphs">GENERIC</text>
<text x="690.59" y="651" font-size="18.02" font-weight="bold" fill="#000" textLength="184.83" lengthAdjust="spacingAndGlyphs">MARKING DIAGRAM*</text>
<rect x="738" y="662" width="92" height="91" stroke="#000" stroke-width="2" fill="none"/>
<circle cx="745.8" cy="673.1" r="2.6" stroke="#000" stroke-width="1.5" fill="none"/>
<text x="756.64" y="687.6" font-size="15.41" font-weight="normal" fill="#000" textLength="53.5" lengthAdjust="spacingAndGlyphs">XXXXX</text>
<text x="756.64" y="707" font-size="15.41" font-weight="normal" fill="#000" textLength="53.5" lengthAdjust="spacingAndGlyphs">XXXXX</text>
<text x="757.77" y="728" font-size="15.41" font-weight="normal" fill="#000" textLength="42.78" lengthAdjust="spacingAndGlyphs">ALYW</text>
<rect x="803.5" y="720.6" width="4.5" height="4.4" stroke="none" stroke-width="0" fill="#000"/>
<rect x="781" y="740.5" width="4.6" height="4.3" stroke="none" stroke-width="0" fill="#000"/>
<text x="670.94" y="779.7" font-size="15.99" font-weight="normal" fill="#000" textLength="53.9" lengthAdjust="spacingAndGlyphs">XXXXX</text>
<text x="734.2" y="779.7" font-size="15.99" font-weight="normal" fill="#000" textLength="9.62" lengthAdjust="spacingAndGlyphs">=</text>
<text x="748.27" y="779.7" font-size="15.99" font-weight="normal" fill="#000" textLength="152.04" lengthAdjust="spacingAndGlyphs">Specific Device Code</text>
<text x="671.27" y="799.44" font-size="15.99" font-weight="normal" fill="#000" textLength="10.66" lengthAdjust="spacingAndGlyphs">A</text>
<text x="734.2" y="799.44" font-size="15.99" font-weight="normal" fill="#000" textLength="9.62" lengthAdjust="spacingAndGlyphs">=</text>
<text x="748.97" y="799.44" font-size="15.99" font-weight="normal" fill="#000" textLength="134.19" lengthAdjust="spacingAndGlyphs">Assembly Location</text>
<text x="669.99" y="819.18" font-size="15.99" font-weight="normal" fill="#000" textLength="8.89" lengthAdjust="spacingAndGlyphs">L</text>
<text x="734.2" y="819.18" font-size="15.99" font-weight="normal" fill="#000" textLength="9.62" lengthAdjust="spacingAndGlyphs">=</text>
<text x="748.93" y="819.18" font-size="15.99" font-weight="normal" fill="#000" textLength="69.31" lengthAdjust="spacingAndGlyphs">Wafer Lot</text>
<text x="670.95" y="838.92" font-size="15.99" font-weight="normal" fill="#000" textLength="10.66" lengthAdjust="spacingAndGlyphs">Y</text>
<text x="734.2" y="838.92" font-size="15.99" font-weight="normal" fill="#000" textLength="9.62" lengthAdjust="spacingAndGlyphs">=</text>
<text x="748.65" y="838.92" font-size="15.99" font-weight="normal" fill="#000" textLength="33.77" lengthAdjust="spacingAndGlyphs">Year</text>
<text x="671.23" y="858.66" font-size="15.99" font-weight="normal" fill="#000" textLength="15.09" lengthAdjust="spacingAndGlyphs">W</text>
<text x="734.2" y="858.66" font-size="15.99" font-weight="normal" fill="#000" textLength="9.62" lengthAdjust="spacingAndGlyphs">=</text>
<text x="748.93" y="858.66" font-size="15.99" font-weight="normal" fill="#000" textLength="82.61" lengthAdjust="spacingAndGlyphs">Work Week</text>
<rect x="672.5" y="871.3" width="4.8" height="4.8" stroke="none" stroke-width="0" fill="#000"/>
<text x="734.2" y="878.4" font-size="15.99" font-weight="normal" fill="#000" textLength="9.62" lengthAdjust="spacingAndGlyphs">=</text>
<text x="747.69" y="878.4" font-size="15.99" font-weight="normal" fill="#000" textLength="128.42" lengthAdjust="spacingAndGlyphs">Pb−Free Package</text>
<text x="641.01" y="902.7" font-size="15.7" font-weight="normal" fill="#000" textLength="291.17" lengthAdjust="spacingAndGlyphs">(Note: Microdot may be in either location)</text>
<text x="631.54" y="929.8" font-size="15.7" font-weight="normal" fill="#000" textLength="303.72" lengthAdjust="spacingAndGlyphs">*This information is generic. Please refer to</text>
<text x="640.63" y="948.4" font-size="15.7" font-weight="normal" fill="#000" textLength="293.03" lengthAdjust="spacingAndGlyphs">device data sheet for actual part marking.</text>
<text x="640" y="965.3" font-size="15.7" font-weight="normal" fill="#000" textLength="250.48" lengthAdjust="spacingAndGlyphs">Pb−Free indicator, “G” or microdot “</text>
<rect x="897.5" y="958.8" width="4.3" height="3.9" stroke="none" stroke-width="0" fill="#000"/>
<text x="902.2" y="965.3" font-size="15.7" font-weight="normal" fill="#000" textLength="11.73" lengthAdjust="spacingAndGlyphs">”,</text>
<text x="640.23" y="983.2" font-size="15.7" font-weight="normal" fill="#000" textLength="196.04" lengthAdjust="spacingAndGlyphs">may or may not be present.</text>
<text x="129.28" y="922.8" font-size="17.3" font-weight="bold" fill="#000" textLength="223.64" lengthAdjust="spacingAndGlyphs">SOLDERING FOOTPRINT*</text>
<line x1="178.5" y1="945.2" x2="178.5" y2="1018.4" stroke="#000" stroke-width="1" stroke-linecap="butt"/>
<line x1="286.5" y1="945.2" x2="286.5" y2="1018.4" stroke="#000" stroke-width="1" stroke-linecap="butt"/>
<line x1="178.5" y1="952.5" x2="207" y2="952.5" stroke="#000" stroke-width="1" stroke-linecap="butt"/>
<line x1="258.9" y1="952.5" x2="286.5" y2="952.5" stroke="#000" stroke-width="1" stroke-linecap="butt"/>
<polygon points="178.5,952.4 189.5,949.2 188,952.4 189.5,955.6" stroke="none" stroke-width="0" fill="#000" stroke-linejoin="miter"/>
<polygon points="286.5,952.4 275.5,955.6 277,952.4 275.5,949.2" stroke="none" stroke-width="0" fill="#000" stroke-linejoin="miter"/>
<text x="216.89" y="957.8" font-size="15.12" font-weight="normal" fill="#000" textLength="31.17" lengthAdjust="spacingAndGlyphs">2.64</text>
<path d="M171.3,1022 L171.3,999.4 L294.5,999.4 L294.5,1022" stroke="#000" stroke-width="1.8" fill="none" stroke-dasharray="0 0"/>
<rect x="185.5" y="993.5" width="13" height="23" stroke="#000" stroke-width="1.3" fill="#fff"/>
<rect x="185.5" y="1106.5" width="13" height="23" stroke="#000" stroke-width="1.3" fill="#fff"/>
<rect x="205.5" y="993.5" width="14" height="23" stroke="#000" stroke-width="1.3" fill="#fff"/>
<rect x="205.5" y="1106.5" width="14" height="23" stroke="#000" stroke-width="1.3" fill="#fff"/>
<rect x="226.5" y="993.5" width="13" height="23" stroke="#000" stroke-width="1.3" fill="#fff"/>
<rect x="226.5" y="1106.5" width="13" height="23" stroke="#000" stroke-width="1.3" fill="#fff"/>
<rect x="246.5" y="993.5" width="14" height="23" stroke="#000" stroke-width="1.3" fill="#fff"/>
<rect x="246.5" y="1106.5" width="14" height="23" stroke="#000" stroke-width="1.3" fill="#fff"/>
<rect x="267.5" y="993.5" width="13" height="23" stroke="#000" stroke-width="1.3" fill="#fff"/>
<rect x="267.5" y="1106.5" width="13" height="23" stroke="#000" stroke-width="1.3" fill="#fff"/>
<line x1="171.3" y1="999" x2="294.5" y2="999" stroke="#000" stroke-width="1.8" stroke-linecap="butt" stroke-dasharray="15.3 6.2" stroke-dashoffset="0"/>
<line x1="171.3" y1="1123" x2="294.5" y2="1123" stroke="#000" stroke-width="1.8" stroke-linecap="butt" stroke-dasharray="15.3 6.2" stroke-dashoffset="0"/>
<line x1="171" y1="999.4" x2="171" y2="1122.8" stroke="#000" stroke-width="1.5" stroke-linecap="butt" stroke-dasharray="24 4" stroke-dashoffset="-22"/>
<line x1="295" y1="999.4" x2="295" y2="1122.8" stroke="#000" stroke-width="1.5" stroke-linecap="butt" stroke-dasharray="24 4" stroke-dashoffset="-22"/>
<rect x="178.5" y="1022.5" width="109" height="78" stroke="#000" stroke-width="1.4" fill="none"/>
<line x1="288" y1="1022" x2="288" y2="1100.7" stroke="#000" stroke-width="2" stroke-linecap="butt"/>
<line x1="232.5" y1="987.5" x2="232.5" y2="1047" stroke="#000" stroke-width="1" stroke-linecap="butt"/>
<line x1="232.5" y1="1056" x2="232.5" y2="1067" stroke="#000" stroke-width="1" stroke-linecap="butt"/>
<line x1="232.5" y1="1076" x2="232.5" y2="1181.3" stroke="#000" stroke-width="1" stroke-linecap="butt"/>
<line x1="159" y1="1061.5" x2="217.7" y2="1061.5" stroke="#000" stroke-width="1" stroke-linecap="butt"/>
<line x1="227.4" y1="1061.5" x2="237.8" y2="1061.5" stroke="#000" stroke-width="1" stroke-linecap="butt"/>
<line x1="248.2" y1="1061.5" x2="307.3" y2="1061.5" stroke="#000" stroke-width="1" stroke-linecap="butt"/>
<line x1="212.5" y1="1101.8" x2="212.5" y2="1181.3" stroke="#000" stroke-width="1" stroke-linecap="butt" stroke-dasharray="14 3 3 3" stroke-dashoffset="0"/>
<line x1="127.7" y1="1022.5" x2="175" y2="1022.5" stroke="#000" stroke-width="1" stroke-linecap="butt"/>
<line x1="127.7" y1="1100.5" x2="175" y2="1100.5" stroke="#000" stroke-width="1" stroke-linecap="butt"/>
<line x1="138.5" y1="1022.3" x2="138.5" y2="1046.7" stroke="#000" stroke-width="1" stroke-linecap="butt"/>
<polygon points="138.5,1022.3 141.7,1033.3 138.5,1031.8 135.3,1033.3" stroke="none" stroke-width="0" fill="#000" stroke-linejoin="miter"/>
<line x1="138.5" y1="1075.5" x2="138.5" y2="1100.2" stroke="#000" stroke-width="1" stroke-linecap="butt"/>
<polygon points="138.5,1100.2 135.3,1089.2 138.5,1090.7 141.7,1089.2" stroke="none" stroke-width="0" fill="#000" stroke-linejoin="miter"/>
<text x="121.38" y="1067" font-size="15.12" font-weight="normal" fill="#000" textLength="31.25" lengthAdjust="spacingAndGlyphs">1.90</text>
<line x1="285" y1="993.5" x2="373" y2="993.5" stroke="#000" stroke-width="1" stroke-linecap="butt"/>
<line x1="285" y1="1129.5" x2="373.3" y2="1129.5" stroke="#000" stroke-width="1" stroke-linecap="butt"/>
<line x1="360.5" y1="993.6" x2="360.5" y2="1046.7" stroke="#000" stroke-width="1" stroke-linecap="butt"/>
<polygon points="360.5,993.6 363.7,1004.6 360.5,1003.1 357.3,1004.6" stroke="none" stroke-width="0" fill="#000" stroke-linejoin="miter"/>
<line x1="360.5" y1="1075.5" x2="360.5" y2="1129.3" stroke="#000" stroke-width="1" stroke-linecap="butt"/>
<polygon points="360.5,1129.3 357.3,1118.3 360.5,1119.8 363.7,1118.3" stroke="none" stroke-width="0" fill="#000" stroke-linejoin="miter"/>
<text x="344.57" y="1067" font-size="15.12" font-weight="normal" fill="#000" textLength="32.38" lengthAdjust="spacingAndGlyphs">3.30</text>
<line x1="284.5" y1="1016.5" x2="325.2" y2="1016.5" stroke="#000" stroke-width="1" stroke-linecap="butt"/>
<line x1="314.5" y1="966.7" x2="314.5" y2="993.6" stroke="#000" stroke-width="1" stroke-linecap="butt"/>
<polygon points="314.4,993.6 311.2,982.6 314.4,984.1 317.6,982.6" stroke="none" stroke-width="0" fill="#000" stroke-linejoin="miter"/>
<line x1="314.4" y1="966.5" x2="322" y2="966.5" stroke="#000" stroke-width="1" stroke-linecap="butt"/>
<line x1="314.5" y1="1016.3" x2="314.5" y2="1035.7" stroke="#000" stroke-width="1" stroke-linecap="butt"/>
<polygon points="314.4,1016.3 317.6,1027.3 314.4,1025.8 311.2,1027.3" stroke="none" stroke-width="0" fill="#000" stroke-linejoin="miter"/>
<text x="328.68" y="955.4" font-size="11.05" font-weight="normal" fill="#000" textLength="21.58" lengthAdjust="spacingAndGlyphs">10X</text>
<text x="327.36" y="971.3" font-size="15.12" font-weight="normal" fill="#000" textLength="31.72" lengthAdjust="spacingAndGlyphs">0.55</text>
<text x="70.83" y="979.7" font-size="12.21" font-weight="normal" fill="#000" textLength="57.38" lengthAdjust="spacingAndGlyphs">PACKAGE</text>
<text x="77.04" y="991.9" font-size="12.21" font-weight="normal" fill="#000" textLength="51.17" lengthAdjust="spacingAndGlyphs">OUTLINE</text>
<line x1="129.3" y1="975.5" x2="141.2" y2="975.5" stroke="#000" stroke-width="1" stroke-linecap="butt"/>
<line x1="141.2" y1="975" x2="170" y2="1014.6" stroke="#000" stroke-width="1" stroke-linecap="butt"/>
<polygon points="170,1014.6 160.94,1007.59 164.41,1006.92 166.12,1003.82" stroke="none" stroke-width="0" fill="#000" stroke-linejoin="miter"/>
<line x1="267.5" y1="1132.8" x2="267.5" y2="1165" stroke="#000" stroke-width="1" stroke-linecap="butt"/>
<line x1="280.5" y1="1132.8" x2="280.5" y2="1165" stroke="#000" stroke-width="1" stroke-linecap="butt"/>
<line x1="246.7" y1="1155.5" x2="267.3" y2="1155.5" stroke="#000" stroke-width="1" stroke-linecap="butt"/>
<polygon points="267.3,1155.5 256.3,1158.7 257.8,1155.5 256.3,1152.3" stroke="none" stroke-width="0" fill="#000" stroke-linejoin="miter"/>
<line x1="280.7" y1="1155.5" x2="304" y2="1155.5" stroke="#000" stroke-width="1" stroke-linecap="butt"/>
<polygon points="280.7,1155.5 291.7,1152.3 290.2,1155.5 291.7,1158.7" stroke="none" stroke-width="0" fill="#000" stroke-linejoin="miter"/>
<text x="309.06" y="1146" font-size="11.05" font-weight="normal" fill="#000" textLength="22" lengthAdjust="spacingAndGlyphs">10X</text>
<text x="308.17" y="1160.3" font-size="14.83" font-weight="normal" fill="#000" textLength="31.15" lengthAdjust="spacingAndGlyphs">0.30</text>
<line x1="187.7" y1="1171.5" x2="212.6" y2="1171.5" stroke="#000" stroke-width="1" stroke-linecap="butt"/>
<polygon points="212.6,1171.8 201.6,1175 203.1,1171.8 201.6,1168.6" stroke="none" stroke-width="0" fill="#000" stroke-linejoin="miter"/>
<line x1="232.6" y1="1171.5" x2="257.5" y2="1171.5" stroke="#000" stroke-width="1" stroke-linecap="butt"/>
<polygon points="232.6,1171.8 243.6,1168.6 242.1,1171.8 243.6,1175" stroke="none" stroke-width="0" fill="#000" stroke-linejoin="miter"/>
<text x="154.16" y="1177" font-size="14.97" font-weight="normal" fill="#000" textLength="31.78" lengthAdjust="spacingAndGlyphs">0.50</text>
<text x="153.46" y="1191.3" font-size="14.97" font-weight="normal" fill="#000" textLength="49.18" lengthAdjust="spacingAndGlyphs">PITCH</text>
<text x="213.51" y="1205.7" font-size="12.21" font-weight="normal" fill="#000" textLength="163.44" lengthAdjust="spacingAndGlyphs">DIMENSIONS: MILLIMETERS</text>
<text x="15.15" y="1228.7" font-size="15.55" font-weight="normal" fill="#000" textLength="452.56" lengthAdjust="spacingAndGlyphs">*For additional information on our Pb−Free strategy and soldering</text>
<text x="25.43" y="1246.6" font-size="15.55" font-weight="normal" fill="#000" textLength="442.29" lengthAdjust="spacingAndGlyphs">details, please download the ON Semiconductor Soldering and</text>
<text x="24.8" y="1264.2" font-size="15.55" font-weight="normal" fill="#000" textLength="405.56" lengthAdjust="spacingAndGlyphs">Mounting Techniques Reference Manual, SOLDERRM/D.</text>
<line x1="1" y1="1281" x2="983.4" y2="1281" stroke="#000" stroke-width="2" stroke-linecap="butt"/>
<line x1="1" y1="1351" x2="983.4" y2="1351" stroke="#000" stroke-width="2" stroke-linecap="butt"/>
<line x1="983" y1="1280" x2="983" y2="1351.5" stroke="#000" stroke-width="2" stroke-linecap="butt"/>
<line x1="1.5" y1="1280" x2="1.5" y2="1351.5" stroke="#000" stroke-width="1.2" stroke-linecap="butt"/>
<line x1="1.6" y1="1315" x2="983.4" y2="1315" stroke="#000" stroke-width="2" stroke-linecap="butt"/>
<line x1="214" y1="1281" x2="214" y2="1350.5" stroke="#000" stroke-width="2" stroke-linecap="butt"/>
<line x1="456" y1="1281" x2="456" y2="1315" stroke="#000" stroke-width="2" stroke-linecap="butt"/>
<line x1="842.5" y1="1315" x2="842.5" y2="1350.5" stroke="#000" stroke-width="1.2" stroke-linecap="butt"/>
<line x1="1" y1="1364" x2="983.4" y2="1364" stroke="#000" stroke-width="1.9" stroke-linecap="butt"/>
<line x1="1" y1="1450" x2="983.4" y2="1450" stroke="#000" stroke-width="1.9" stroke-linecap="butt"/>
<line x1="983" y1="1363" x2="983" y2="1451" stroke="#000" stroke-width="1.9" stroke-linecap="butt"/>
<line x1="1.5" y1="1363" x2="1.5" y2="1451" stroke="#000" stroke-width="1.3" stroke-linecap="butt"/>
<text x="17.73" y="1382.9" font-size="12.35" font-weight="normal" fill="#000" textLength="125.05" lengthAdjust="spacingAndGlyphs">ON Semiconductor and</text>
<text x="176.49" y="1382.9" font-size="12.35" font-weight="normal" fill="#000" textLength="790.91" lengthAdjust="spacingAndGlyphs">are trademarks of Semiconductor Components Industries, LLC dba ON Semiconductor or its subsidiaries in the United States and/or other countries.</text>
<text x="17.73" y="1396.8" font-size="12.35" font-weight="normal" fill="#000" textLength="949.34" lengthAdjust="spacingAndGlyphs">ON Semiconductor reserves the right to make changes without further notice to any products herein. ON Semiconductor makes no warranty, representation or guarantee regarding</text>
<text x="18.12" y="1410.7" font-size="12.35" font-weight="normal" fill="#000" textLength="948.2" lengthAdjust="spacingAndGlyphs">the suitability of its products for any particular purpose, nor does ON Semiconductor assume any liability arising out of the application or use of any product or circuit, and specifically</text>
<text x="17.8" y="1424.7" font-size="12.35" font-weight="normal" fill="#000" textLength="949.03" lengthAdjust="spacingAndGlyphs">disclaims any and all liability, including without limitation special, consequential or incidental damages. ON Semiconductor does not convey any license under its patent rights nor the</text>
<text x="17.49" y="1438.6" font-size="12.35" font-weight="normal" fill="#000" textLength="84.13" lengthAdjust="spacingAndGlyphs">rights of others.</text>
<defs><radialGradient id="lg" cx="0.4" cy="0.35" r="0.7"><stop offset="0" stop-color="#d0d0d0"/><stop offset="0.6" stop-color="#9a9a9a"/><stop offset="1" stop-color="#707070"/></radialGradient></defs>
<circle cx="162.2" cy="1378.9" r="10" stroke="none" stroke-width="0" fill="url(#lg)"/>
<text x="162.2" y="1383.6" font-size="13" font-weight="bold" fill="#fff" text-anchor="middle" textLength="10" lengthAdjust="spacingAndGlyphs">ON</text>
<line x1="1" y1="1459" x2="984" y2="1459" stroke="#bfbfbf" stroke-width="4" stroke-linecap="butt"/>
</svg>
</body></html>
